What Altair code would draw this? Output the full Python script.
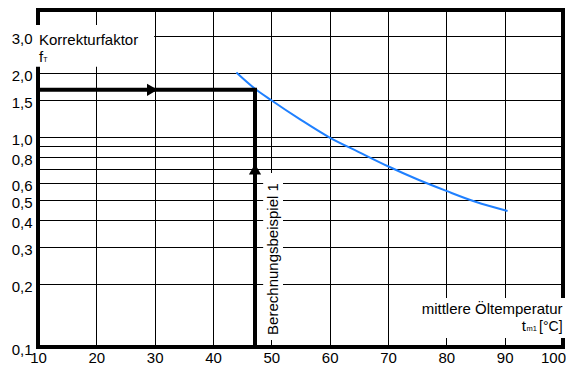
import altair as alt
import pandas as pd

# ---- chart values ----
temps = [44.0, 47.2, 50.0, 55.0, 60.0, 65.0, 70.0, 75.0, 80.0, 85.0, 90.5]
factors = [2.02, 1.69, 1.49, 1.205, 0.99, 0.845, 0.723, 0.627, 0.552, 0.49, 0.443]
x_ticks = [10, 20, 30, 40, 50, 60, 70, 80, 90, 100]
y_ticks = [0.1, 0.2, 0.3, 0.4, 0.5, 0.6, 0.7, 0.8, 0.9, 1.0, 1.5, 2.0, 3.0]
x_domain = [10, 100]
y_domain = [0.1, 4.0]
example_temp = 47.2
example_factor = 1.67

FONT = "Liberation Sans"
W, H = 525, 337
FS = 15

xs = alt.Scale(domain=x_domain, nice=False, zero=False)
ys = alt.Scale(type="log", domain=y_domain, nice=False)

x_axis = alt.Axis(values=x_ticks, grid=True, domain=False, ticks=False,
                  labelFontSize=FS, labelFont=FONT, labelColor="black",
                  labelPadding=3, gridColor="black", gridWidth=1, gridOpacity=1,
                  labelOffset={"condition": {"test": "datum.value == 100", "value": -10}, "value": 0},
                  title=None, labelFlush=False, labelOverlap=False)
y_axis = alt.Axis(values=y_ticks, grid=True, domain=False, ticks=False,
                  labelFontSize=FS, labelFont=FONT, labelColor="black",
                  labelPadding=6, labelOffset=2.5,
                  gridColor="black", gridWidth=1, gridOpacity=1,
                  title=None, labelOverlap=False, labelFlush=False,
                  labelExpr="(datum.value > 0.69 && datum.value < 0.71) || (datum.value > 0.89 && datum.value < 0.91) ? '' : replace(format(datum.value, '.1f'), '.', ',')")

X = lambda f="t": alt.X(f"{f}:Q", scale=xs, axis=x_axis)
Y = lambda f="f": alt.Y(f"{f}:Q", scale=ys, axis=y_axis)

curve_df = pd.DataFrame({"t": temps, "f": factors})
curve = alt.Chart(curve_df).mark_line(color="#1f80ff", strokeWidth=2, interpolate="monotone").encode(
    x=X(), y=Y())

path_df = pd.DataFrame({
    "t": [x_domain[0], example_temp, example_temp],
    "f": [example_factor, example_factor, y_domain[0]],
    "o": [0, 1, 2],
})
path = alt.Chart(path_df).mark_line(color="black", strokeWidth=4, strokeJoin="miter", strokeCap="butt").encode(
    x=X(), y=Y(), order="o:Q")

arrow_r = alt.Chart(pd.DataFrame({"t": [29.6], "f": [example_factor]})).mark_point(
    shape="triangle-right", filled=True, color="black", size=150, opacity=1).encode(x=X(), y=Y())
arrow_u = alt.Chart(pd.DataFrame({"t": [example_temp], "f": [0.70]})).mark_point(
    shape="triangle-up", filled=True, color="black", size=150, opacity=1).encode(x=X(), y=Y())

frame = alt.Chart(alt.Data(values=[{"k": 1}])).mark_rect(
    filled=False, stroke="black", strokeWidth=4).encode(
    x=alt.value(0), x2=alt.value(W), y=alt.value(0), y2=alt.value(H))

# white boxes behind annotation texts (annotation anchors in data units)
box_df = pd.DataFrame({
    "t": [9.5, 48.6, 73.8],
    "t2": [29.9, 52.0, 101.5],
    "f": [2.15, 0.108, 0.1104],
    "f2": [3.39, 0.671, 0.171],
})
boxes = alt.Chart(box_df).mark_rect(fill="white", clip=False).encode(
    x=X(), x2="t2:Q", y=Y(), y2="f2:Q")

def txt(t, f, s, size=FS, align="left", baseline="alphabetic", angle=0, dx=0):
    return alt.Chart(pd.DataFrame({"t": [t], "f": [f], "s": [s]})).mark_text(
        font=FONT, fontSize=size, align=align, baseline=baseline, angle=angle, dx=dx,
        color="black").encode(x=X(), y=Y(), text="s:N")

texts = [
    txt(10.17, 2.894, "Korrekturfaktor", baseline="middle"),
    txt(10.17, 2.27, "f"),
    txt(10.17, 2.27, "T", size=7, dx=4.3),
    txt(99.92, 0.144, "mittlere Öltemperatur", align="right"),
    txt(99.92, 0.1191, "[°C]", size=14, align="right"),
    txt(99.92, 0.1191, "m1", size=7.5, align="right", dx=-25.5),
    txt(99.92, 0.1191, "t", align="right", dx=-36.5),
    txt(50.2, 0.262, "Berechnungsbeispiel 1", align="center", baseline="middle", angle=270),
]

chart = alt.layer(curve, path, arrow_r, arrow_u, frame, boxes, *texts).properties(
    width=W, height=H,
    autosize=alt.AutoSizeParams(type="none"),
    padding={"left": 30, "top": 2, "right": 3, "bottom": 17},
).configure_view(stroke=None).configure(background="white")

chart.save("out.html", embed_options={"renderer": "svg", "actions": False})
